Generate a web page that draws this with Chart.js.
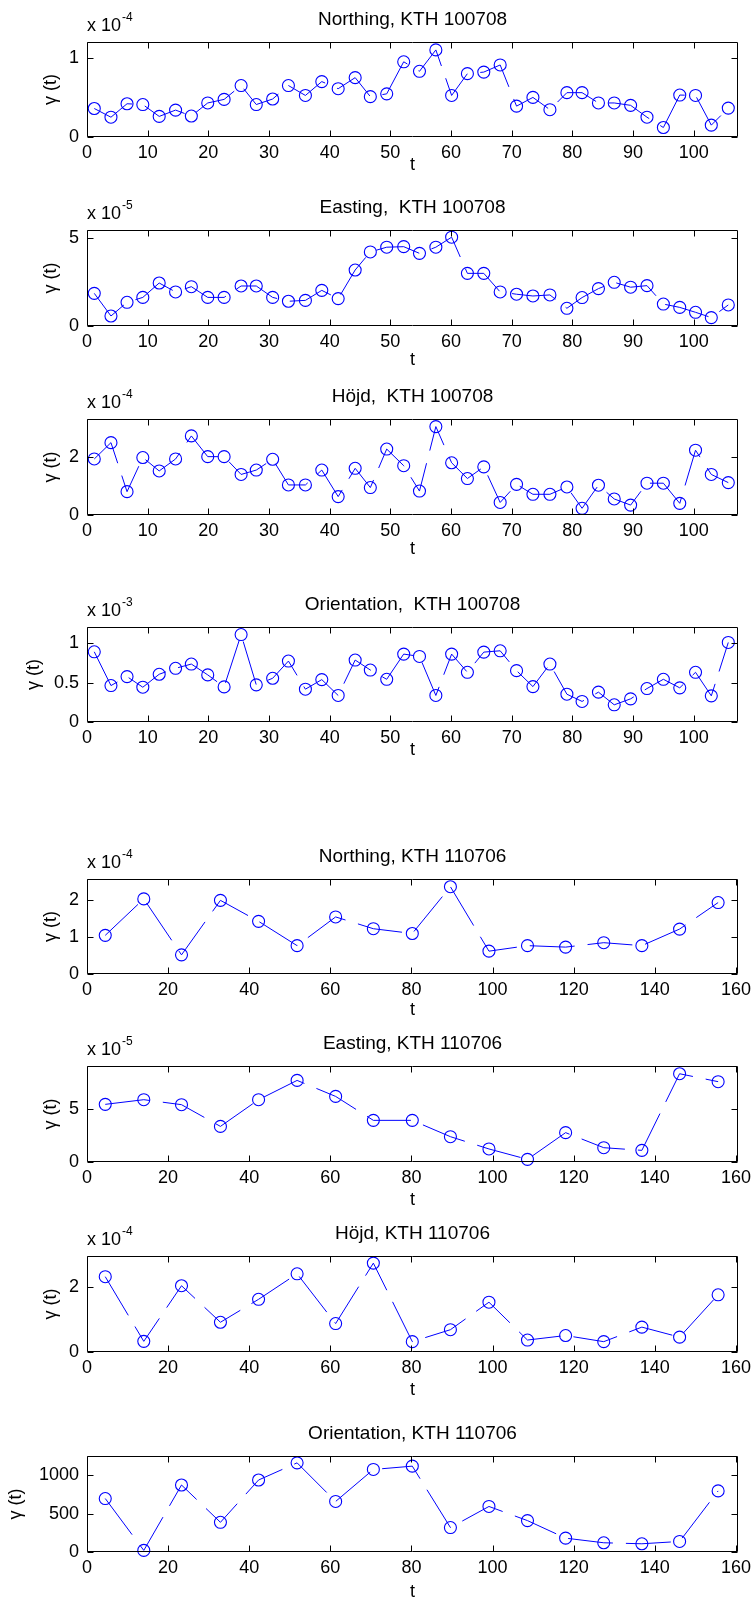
<!DOCTYPE html>
<html>
<head>
<meta charset="utf-8">
<script src="https://cdn.jsdelivr.net/npm/chart.js@4.4.1/dist/chart.umd.min.js"></script>
<style>
  html, body { margin: 0; padding: 0; background: #fff; }
  #wrap { position: relative; width: 753px; height: 1602px; overflow: hidden; }
  #wrap canvas { position: absolute; left: 0; }
</style>
</head>
<body>
<div id="wrap"></div>
<script>
// sample times, 2010 session (40 samples) and 2011 session (17 samples)
const tA = [1.2, 3.95, 6.6, 9.2, 11.9, 14.6, 17.2, 19.9, 22.6, 25.4, 27.9, 30.6, 33.2, 36.0, 38.7, 41.4, 44.2, 46.7, 49.4, 52.2,
  54.8, 57.5, 60.1, 62.7, 65.4, 68.1, 70.8, 73.5, 76.3, 79.1, 81.6, 84.3, 86.9, 89.6, 92.3, 95.0, 97.7, 100.3, 102.9, 105.7];
const tB = [4.5, 14.0, 23.3, 32.9, 42.3, 51.8, 61.3, 70.6, 80.2, 89.6, 99.1, 108.6, 118.0, 127.4, 136.8, 146.1, 155.6];

// gamma(t), in units of the axis multiplier
const northingA = [0.36, 0.25, 0.42, 0.41, 0.26, 0.34, 0.265, 0.43, 0.475, 0.65, 0.41, 0.48, 0.65, 0.525, 0.70, 0.61, 0.75, 0.51, 0.545, 0.95,
  0.83, 1.10, 0.525, 0.80, 0.82, 0.91, 0.39, 0.50, 0.345, 0.56, 0.56, 0.43, 0.43, 0.40, 0.25, 0.12, 0.53, 0.525, 0.15, 0.365];
const eastingA = [1.86, 0.57, 1.35, 1.63, 2.45, 1.94, 2.24, 1.63, 1.63, 2.28, 2.28, 1.63, 1.41, 1.46, 2.03, 1.56, 3.19, 4.22, 4.49, 4.52,
  4.14, 4.49, 5.06, 3.0, 3.0, 1.94, 1.81, 1.71, 1.77, 1.01, 1.62, 2.13, 2.49, 2.21, 2.30, 1.25, 1.06, 0.78, 0.48, 1.20];
const hojdA = [1.92, 2.48, 0.80, 1.97, 1.51, 1.92, 2.71, 2.0, 2.0, 1.39, 1.54, 1.91, 1.03, 1.03, 1.54, 0.63, 1.60, 0.94, 2.26, 1.69,
  0.82, 3.03, 1.79, 1.25, 1.65, 0.43, 1.05, 0.71, 0.71, 0.96, 0.23, 1.02, 0.55, 0.34, 1.09, 1.09, 0.40, 2.22, 1.39, 1.11];
const orientA = [0.894, 0.464, 0.578, 0.443, 0.608, 0.684, 0.738, 0.60, 0.447, 1.114, 0.473, 0.557, 0.776, 0.418, 0.54, 0.338, 0.789, 0.662, 0.544, 0.865,
  0.835, 0.338, 0.865, 0.633, 0.89, 0.907, 0.654, 0.451, 0.738, 0.354, 0.262, 0.38, 0.219, 0.295, 0.426, 0.544, 0.435, 0.633, 0.333, 1.013];

const northingB = [1.05, 2.04, 0.52, 2.0, 1.43, 0.77, 1.55, 1.23, 1.10, 2.37, 0.62, 0.77, 0.73, 0.85, 0.77, 1.22, 1.94];
const eastingB = [5.44, 5.88, 5.41, 3.36, 5.88, 7.70, 6.19, 3.93, 3.93, 2.39, 1.23, 0.25, 2.77, 1.35, 1.10, 8.33, 7.58];
const hojdB = [2.33, 0.33, 2.05, 0.92, 1.63, 2.42, 0.88, 2.75, 0.32, 0.69, 1.54, 0.37, 0.51, 0.32, 0.77, 0.46, 1.77];
const orientB = [695, 21, 871, 386, 936, 1159, 657, 1073, 1116, 318, 592, 408, 180, 120, 107, 137, 794];

const titles = [
  "Northing, KTH 100708", "Easting,  KTH 100708", "Höjd,  KTH 100708", "Orientation,  KTH 100708",
  "Northing, KTH 110706", "Easting, KTH 110706", "Höjd, KTH 110706", "Orientation, KTH 110706"
];
const exponents = ["-4", "-5", "-4", "-3", "-4", "-5", "-4", null];
const yTicks = [[0, 1], [0, 5], [0, 2], [0, 0.5, 1], [0, 1, 2], [0, 5], [0, 2], [0, 500, 1000]];
const yMax = [1.2, 5.47, 3.29, 1.21, 2.58, 9.06, 2.97, 1248];
const xTicksA = [0, 10, 20, 30, 40, 50, 60, 70, 80, 90, 100];
const xTicksB = [0, 20, 40, 60, 80, 100, 120, 140, 160];
const xMaxA = 107.3;
const xMaxB = 160.5;

const panels = [
  { t: tA, v: northingA }, { t: tA, v: eastingA }, { t: tA, v: hojdA }, { t: tA, v: orientA },
  { t: tB, v: northingB }, { t: tB, v: eastingB }, { t: tB, v: hojdB }, { t: tB, v: orientB }
];

// page geometry of each axes box (px)
const boxes = [
  { top: 42, bottom: 137, xlab: 28, ylab: 51 },
  { top: 230, bottom: 326, xlab: 34, ylab: 51 },
  { top: 419, bottom: 515, xlab: 34, ylab: 51 },
  { top: 627, bottom: 722, xlab: 28, ylab: 34 },
  { top: 879, bottom: 974, xlab: 36, ylab: 51 },
  { top: 1066, bottom: 1162, xlab: 38, ylab: 51 },
  { top: 1256, bottom: 1352, xlab: 38, ylab: 51 },
  { top: 1456, bottom: 1552, xlab: 40, ylab: 16 }
];

const FONT = '"Liberation Sans", Arial, Helvetica, sans-serif';
const BLUE = "rgb(0, 0, 255)";
const PLOT_LEFT = 87;
const PLOT_RIGHT = 738;
const HEAD = 42;
const XAXIS_H = 54;
const TICK = 6;

Chart.defaults.font.family = FONT;
Chart.defaults.color = "#000";

// box round the axes with inward ticks on all four sides, like matlab
const framePlugin = {
  id: "frame",
  afterDraw(chart) {
    const { ctx, chartArea: a, scales } = chart;
    const L = Math.round(a.left) + 0.5, R = Math.round(a.right) - 0.5;
    const T = Math.round(a.top) + 0.5, B = Math.round(a.bottom) - 0.5;
    ctx.save();
    ctx.strokeStyle = "#000";
    ctx.lineWidth = 1;
    ctx.beginPath();
    ctx.rect(L, T, R - L, B - T);
    scales.x.ticks.forEach((tk) => {
      const px = Math.round(scales.x.getPixelForValue(tk.value)) + 0.5;
      ctx.moveTo(px, B); ctx.lineTo(px, B - TICK);
      ctx.moveTo(px, T); ctx.lineTo(px, T + TICK);
    });
    scales.y.ticks.forEach((tk) => {
      const py = Math.round(scales.y.getPixelForValue(tk.value)) + 0.5;
      ctx.moveTo(L, py); ctx.lineTo(L + TICK, py);
      ctx.moveTo(R, py); ctx.lineTo(R - TICK, py);
    });
    ctx.stroke();
    ctx.restore();
  }
};

// the "x 10^n" multiplier above the y axis
const multiplierPlugin = {
  id: "multiplier",
  afterDraw(chart, args, opts) {
    if (!opts.exp) return;
    const { ctx, chartArea: a } = chart;
    ctx.save();
    ctx.fillStyle = "#000";
    ctx.textBaseline = "alphabetic";
    ctx.font = "18px " + FONT;
    const base = "x 10";
    ctx.fillText(base, a.left, a.top - 11);
    const w = ctx.measureText(base).width;
    ctx.font = "12px " + FONT;
    ctx.fillText(opts.exp, a.left + w + 1, a.top - 21);
    ctx.restore();
  }
};

const wrap = document.getElementById("wrap");

panels.forEach((p, i) => {
  const box = boxes[i];
  const plotH = box.bottom - box.top;
  const canvas = document.createElement("canvas");
  canvas.width = 753;
  canvas.height = HEAD + plotH + XAXIS_H;
  canvas.style.top = (box.top - HEAD) + "px";
  wrap.appendChild(canvas);

  const isA = p.t === tA;
  const xTicks = isA ? xTicksA : xTicksB;
  const data = p.t.map((t, k) => ({ x: t, y: p.v[k] }));

  new Chart(canvas, {
    type: "line",
    data: {
      datasets: [
        {
          data: data,
          borderColor: BLUE,
          borderWidth: 1,
          borderDash: [45, 13],
          tension: 0,
          pointRadius: 6,
          pointHoverRadius: 6,
          pointBorderWidth: 1.1,
          pointBorderColor: BLUE,
          pointBackgroundColor: "rgba(0,0,0,0)",
          clip: false,
        },
      ],
    },
    options: {
      responsive: false,
      animation: false,
      devicePixelRatio: 1,
      events: [],
      layout: {
        padding: { top: 8.6, right: 753 - PLOT_RIGHT, left: 0, bottom: 0 },
      },
      plugins: {
        legend: { display: false },
        tooltip: { enabled: false },
        title: {
          display: true,
          text: titles[i],
          fullSize: false,
          color: "#000",
          font: { size: 19, weight: "normal", lineHeight: 1.2 },
          padding: { top: 0, bottom: 10.6 },
        },
        multiplier: { exp: exponents[i] },
      },
      scales: {
        x: {
          type: "linear",
          min: 0,
          max: isA ? xMaxA : xMaxB,
          grid: { display: false, drawTicks: false },
          border: { display: false },
          afterBuildTicks: (s) => { s.ticks = xTicks.map((v) => ({ value: v })); },
          afterFit: (s) => { s.height = XAXIS_H; s.paddingLeft = 0; s.paddingRight = 0; },
          ticks: {
            autoSkip: false,
            maxRotation: 0,
            padding: 5,
            color: "#000",
            font: { size: 18 },
            callback: (v) => String(v),
          },
          title: {
            display: true,
            text: "t",
            color: "#000",
            font: { size: 18, lineHeight: 1.2 },
            padding: { top: 0, bottom: XAXIS_H - 10.8 - box.xlab },
          },
        },
        y: {
          type: "linear",
          min: 0,
          max: yMax[i],
          grid: { display: false, drawTicks: false },
          border: { display: false },
          afterBuildTicks: (s) => { s.ticks = yTicks[i].map((v) => ({ value: v })); },
          afterFit: (s) => { s.width = PLOT_LEFT; s.paddingTop = 0; s.paddingBottom = 0; },
          ticks: {
            padding: 8,
            color: "#000",
            font: { size: 18 },
            callback: (v) => String(v),
          },
          title: {
            display: true,
            text: "γ (t)",
            color: "#000",
            font: { size: 18, lineHeight: 1.2 },
            padding: { top: box.ylab - 10.8, bottom: 0 },
          },
        },
      },
    },
    plugins: [framePlugin, multiplierPlugin],
  });
});
</script>
</body>
</html>
